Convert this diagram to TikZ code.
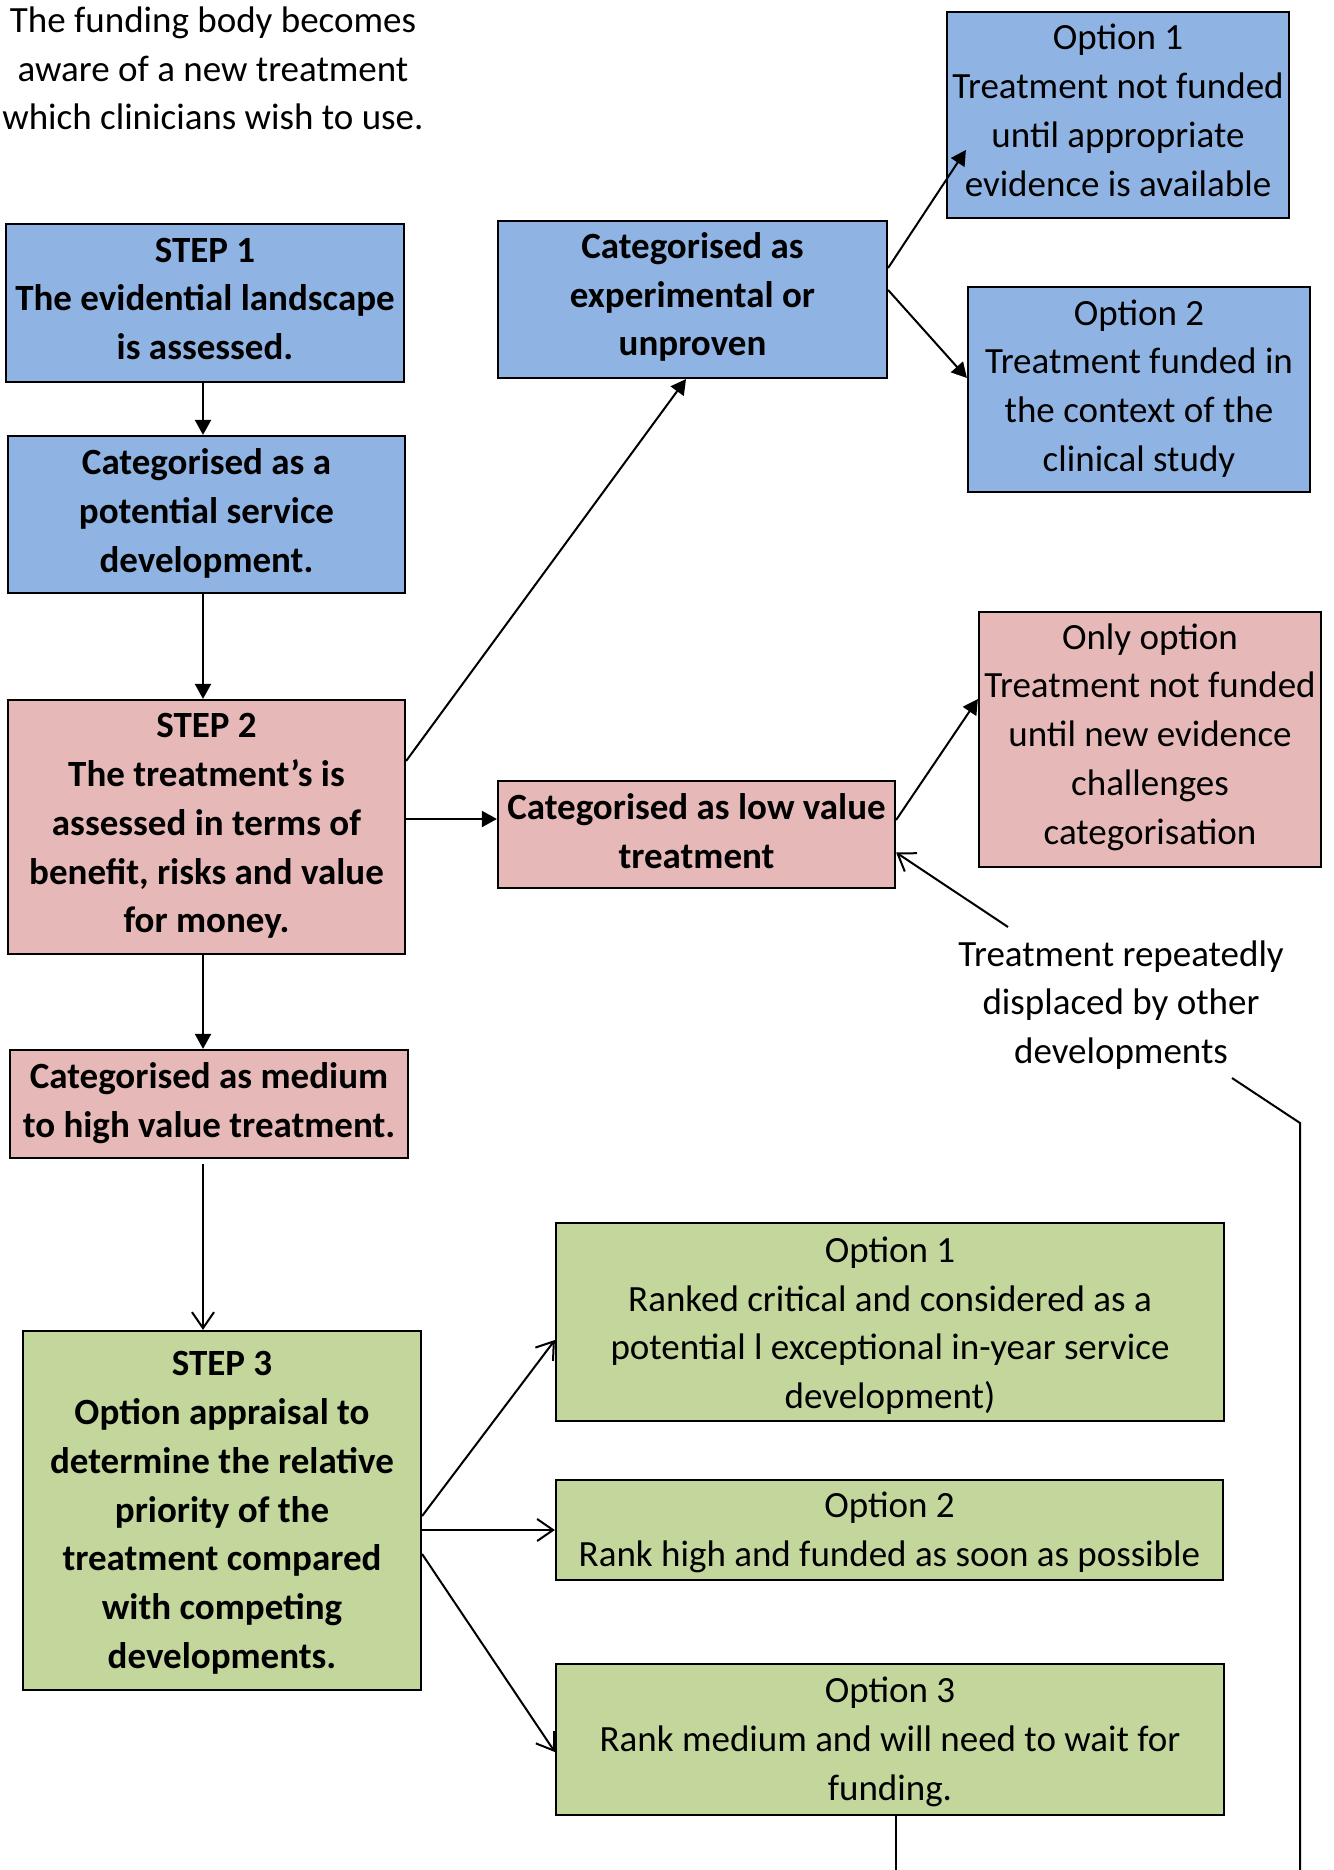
\documentclass[tikz,border=0pt]{standalone}
\usepackage{fontspec}
\setmainfont{Carlito}
\usetikzlibrary{arrows.meta,calc}
\definecolor{bluef}{HTML}{8FB4E3}
\definecolor{pinkf}{HTML}{E6B9B8}
\definecolor{greenf}{HTML}{C3D69B}
\begin{document}
\begin{tikzpicture}[x=1pt,y=-1pt,
 box/.style={draw=black, line width=2.2pt, rectangle, inner sep=0pt},
 txt/.style={align=center, inner sep=0pt, font=\fontsize{37}{48.8}\selectfont},
 btxt/.style={txt, font=\fontsize{37}{48.8}\selectfont\bfseries},
 fa/.style={-{Triangle[length=15pt,width=16pt]}, line width=2pt},
 oa/.style={-{Straight Barb[length=16pt,width=22pt,line width=2pt]}, line width=2pt},
 ln/.style={line width=2pt}]
\useasboundingbox (0,0) rectangle (1333,1870);

\node[txt] (intro) at (213,68.5) {The funding body becomes\\aware of a new treatment\\which clinicians wish to use.};

% boxes
\node[box, fill=bluef, minimum width=398pt, minimum height=158pt] (s1) at (205,303) {};
\node[box, fill=bluef, minimum width=397pt, minimum height=157pt] (pot) at (206.5,514.5) {};
\node[box, fill=pinkf, minimum width=397pt, minimum height=254pt] (s2) at (206.5,827) {};
\node[box, fill=pinkf, minimum width=398pt, minimum height=108pt] (med) at (209,1104) {};
\node[box, fill=greenf, minimum width=398pt, minimum height=359pt] (s3) at (222,1510.5) {};
\node[box, fill=bluef, minimum width=389pt, minimum height=157pt] (exp) at (692.5,299.5) {};
\node[box, fill=bluef, minimum width=342pt, minimum height=206pt] (b1) at (1118,115) {};
\node[box, fill=bluef, minimum width=342pt, minimum height=205pt] (b2) at (1139,389.5) {};
\node[box, fill=pinkf, minimum width=397pt, minimum height=107pt] (low) at (696.5,834.5) {};
\node[box, fill=pinkf, minimum width=342pt, minimum height=255pt] (only) at (1150,739.5) {};
\node[box, fill=greenf, minimum width=668pt, minimum height=198pt] (g1) at (890,1322) {};
\node[box, fill=greenf, minimum width=667pt, minimum height=100pt] (g2) at (889.5,1530) {};
\node[box, fill=greenf, minimum width=668pt, minimum height=151pt] (g3) at (890,1739.5) {};

% box texts
\node[btxt] (s1t) at ($(s1)+(0,-4)$) {STEP 1\\The evidential landscape\\is assessed.};
\node[btxt] (pott) at ($(pot)+(0,-1)$) {Categorised as a\\potential service\\development.};
\node[btxt] (s2t) at ($(s2)+(0,-1)$) {STEP 2\\The treatment’s is\\assessed in terms of\\benefit, risks and value\\for money.};
\node[btxt] (medt) at ($(med)+(0,-1)$) {Categorised as medium\\to high value treatment.};
\node[btxt] (s3t) at ($(s3)+(0,2.4)$) {STEP 3\\Option appraisal to\\determine the relative\\priority of the\\treatment compared\\with competing\\developments.};
\node[btxt] (expt) at ($(exp)+(0,-2.4)$) {Categorised as\\experimental or\\unproven};
\node[txt] (b1t) at ($(b1)+(0,-4.8)$) {Option 1\\Treatment not funded\\until appropriate\\evidence is available};
\node[txt] (b2t) at ($(b2)+(0,-1)$) {Option 2\\Treatment funded in\\the context of the\\clinical study};
\node[btxt] (lowt) at ($(low)+(0,-3.6)$) {Categorised as low value\\treatment};
\node[txt] (onlyt) at ($(only)+(0,-2.4)$) {Only option\\Treatment not funded\\until new evidence\\challenges\\categorisation};
\node[txt] (g1t) at ($(g1)+(0,3.6)$) {Option 1\\Ranked critical and considered as a\\potential l exceptional in-year service\\development)};
\node[txt] (g2t) at ($(g2)+(0,2.4)$) {Option 2\\Rank high and funded as soon as possible};
\node[txt] (g3t) at ($(g3)+(0,2.4)$) {Option 3\\Rank medium and will need to wait for\\funding.};

\node[txt] (rep) at (1121,1005) {Treatment repeatedly\\displaced by other\\developments};

% vertical chain
\coordinate (v1) at ($(s1.south)+(-2,0)$);
\draw[fa] (v1) -- (v1 |- pot.north);
\coordinate (v2) at ($(pot.south)+(-3.5,0)$);
\draw[fa] (v2) -- (v2 |- s2.north);
\coordinate (v3) at ($(s2.south)+(-3.5,0)$);
\draw[fa] (v3) -- (v3 |- med.north);
\coordinate (v4) at ($(med.south)+(-6,5)$);
\draw[oa] (v4) -- (v4 |- s3.north);

% step 2 branches
\draw[fa] ($(s2.east)+(0,-66)$) -- ($(exp.south)+(-6.5,0)$);
\draw[fa] ($(s2.east)+(0,-8)$) -- ($(low.west)+(0,-15.5)$);

% experimental branches
\coordinate (c1) at ($(b1.west)+(20,35)$);
\draw[fa] ($(exp.east)+(0,-31.5)$) -- (c1);
\draw[fa] ($(exp.east)+(0,-9.5)$) -- ($(b2.west)+(0,-11.5)$);

% low value branch
\draw[fa] ($(low.east)+(0,-14.5)$) -- ($(only.west)+(0,-40.5)$);

% repeated displacement
\coordinate (r1) at (1008,927);
\draw[oa] (r1) -- ($(low.east)+(0,18)$);
\coordinate (r2) at (1232,1078);
\coordinate (r3) at (1300,1123);
\coordinate (r4) at (1300,1870);
\draw[ln] (r2) -- (r3) -- (r4);

% step 3 branches
\draw[oa] ($(s3.east)+(0,5.5)$) -- ($(g1.west)+(0,18)$);
\draw[oa] ($(s3.east)+(0,19.5)$) -- (g2.west);
\draw[oa] ($(s3.east)+(0,43.5)$) -- ($(g3.west)+(0,12.5)$);

\coordinate (g3end) at (896,1870);
\draw[ln] (g3.south -| g3end) -- (g3end);
\end{tikzpicture}
\end{document}
